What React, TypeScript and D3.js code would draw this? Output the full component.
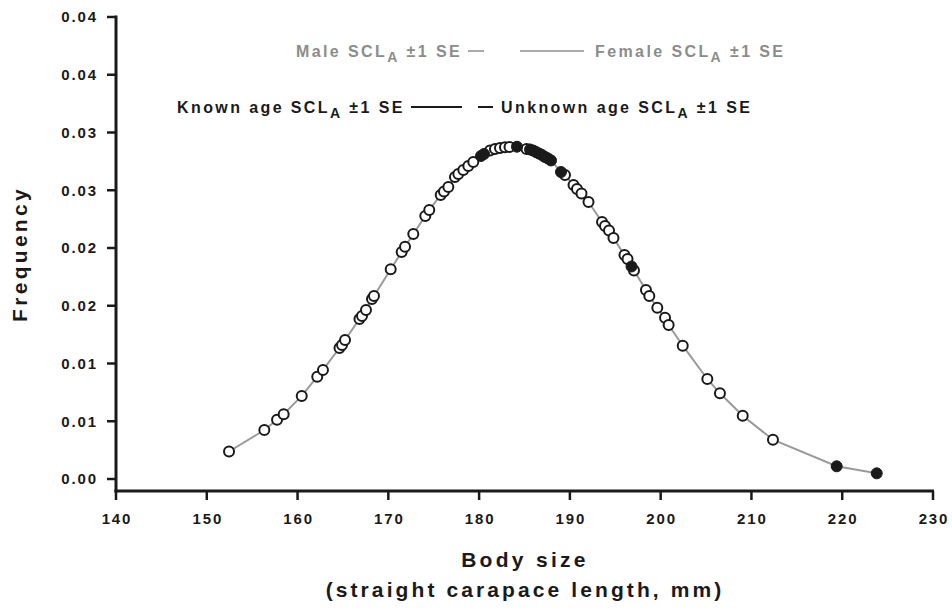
import * as d3 from "d3";

// Open circles (unknown age)
const openX = [
  152.45, 156.34, 157.74, 158.47, 160.46, 162.17, 162.8, 164.62, 164.9, 165.23,
  166.82, 167.1, 167.54, 168.2, 168.42, 170.26, 171.47, 171.84, 172.75, 174.07,
  174.51, 175.77, 176.13, 176.61, 177.34, 177.71, 178.26, 178.81, 179.36, 181.2,
  181.75, 182.3, 182.85, 183.35, 185.22, 185.94, 186.6, 187.26, 189.46, 190.4,
  190.78, 191.28, 192.05, 193.54, 193.87, 194.31, 194.8, 196.01, 196.35, 197.06,
  198.38, 198.75, 199.63, 200.48, 200.88, 202.43, 205.14, 206.53, 209.04, 212.37,
];
const openY = [
  0.00238, 0.00424, 0.00513, 0.0056, 0.00719, 0.00886, 0.00944, 0.01134, 0.0116, 0.01203,
  0.01385, 0.01411, 0.01463, 0.01558, 0.01584, 0.01816, 0.01965, 0.02011, 0.02121, 0.02277,
  0.02329, 0.02459, 0.02489, 0.02528, 0.02615, 0.02641, 0.02675, 0.0271, 0.02745, 0.02844,
  0.02857, 0.02866, 0.02872, 0.02874, 0.02857, 0.02844, 0.02818, 0.02788, 0.02632, 0.02545,
  0.02511, 0.02472, 0.02398, 0.02225, 0.0219, 0.02152, 0.02087, 0.01939, 0.01905, 0.01805,
  0.01636, 0.01584, 0.01483, 0.01397, 0.01333, 0.01154, 0.00866, 0.00742, 0.00548, 0.0034,
];

// Filled circles (known age)
const filledX = [180.21, 180.54, 184.17, 185.61, 186.27, 186.93, 187.59, 187.92, 189.02, 196.79, 219.39, 223.8];
const filledY = [0.02797, 0.02814, 0.02877, 0.02853, 0.02831, 0.02805, 0.02775, 0.02758, 0.02658, 0.0184, 0.0011, 0.00049];

const xTicks = [140, 150, 160, 170, 180, 190, 200, 210, 220, 230];
const yTicks = [0, 0.005, 0.01, 0.015, 0.02, 0.025, 0.03, 0.035, 0.04];
const yTickLabels = ["0.00", "0.01", "0.01", "0.02", "0.02", "0.03", "0.03", "0.04", "0.04"];

const font = "'Liberation Sans', Arial, sans-serif";
const gray = "#8c8c8c";
const ink = "#1a1a1a";

function Label({ x, y, pre, post, color }: { x: number; y: number; pre: string; post: string; color: string }) {
  return (
    <text x={x} y={y} fill={color} fontSize={16} fontWeight="bold" letterSpacing={2.4}>
      {pre}
      <tspan fontSize={14} dy={5}>A</tspan>
      <tspan dy={-5}>{post}</tspan>
    </text>
  );
}

export default function App() {
  const x = d3.scaleLinear().domain([140, 230]).range([116, 933]);
  const y = d3.scaleLinear().domain([0, 0.04]).range([479, 17]);
  const xAxisY = 491;

  const all = openX
    .map((v, i) => [v, openY[i]] as [number, number])
    .concat(filledX.map((v, i) => [v, filledY[i]] as [number, number]))
    .sort((a, b) => a[0] - b[0]);

  const line = d3
    .line<[number, number]>()
    .x((d) => x(d[0]))
    .y((d) => y(d[1]));

  return (
    <svg width={952} height={612} style={{ position: "absolute", left: 0, top: 0 }} fontFamily={font}>
      <rect width={952} height={612} fill="#fff" />

      {/* axes */}
      <line x1={116} x2={116} y1={15.5} y2={xAxisY + 1.5} stroke={ink} strokeWidth={3} />
      <line x1={114.5} x2={934} y1={xAxisY} y2={xAxisY} stroke={ink} strokeWidth={3} />
      {yTicks.map((t, i) => (
        <g key={i}>
          <line x1={107} x2={116} y1={y(t)} y2={y(t)} stroke={ink} strokeWidth={2.5} />
          <text x={98} y={y(t)} dy="0.36em" textAnchor="end" fontSize={15} fontWeight="bold" letterSpacing={1.9} fill={ink}>
            {yTickLabels[i]}
          </text>
        </g>
      ))}
      {xTicks.map((t) => (
        <g key={t}>
          <line x1={x(t)} x2={x(t)} y1={xAxisY} y2={xAxisY + 9} stroke={ink} strokeWidth={2.5} />
          <text x={x(t) + 1} y={xAxisY + 33} textAnchor="middle" fontSize={15} fontWeight="bold" letterSpacing={1.9} fill={ink}>
            {t}
          </text>
        </g>
      ))}

      {/* titles */}
      <text transform="translate(27,254) rotate(-90)" textAnchor="middle" fontSize={21} fontWeight="bold" letterSpacing={3.3} fill={ink}>
        Frequency
      </text>
      <text x={525} y={567} textAnchor="middle" fontSize={21} fontWeight="bold" letterSpacing={3.3} fill={ink}>
        Body size
      </text>
      <text x={525} y={597} textAnchor="middle" fontSize={21} fontWeight="bold" letterSpacing={3.1} fill={ink}>
        (straight carapace length, mm)
      </text>

      {/* legend */}
      <Label x={296} y={57} pre="Male SCL" post=" ±1 SE" color={gray} />
      <line x1={468} x2={484} y1={51} y2={51} stroke={gray} strokeWidth={1.5} />
      <line x1={520} x2={584} y1={51} y2={51} stroke={gray} strokeWidth={1.5} />
      <Label x={595} y={57} pre="Female SCL" post=" ±1 SE" color={gray} />
      <Label x={177} y={113} pre="Known age SCL" post=" ±1 SE" color={ink} />
      <line x1={411} x2={462} y1={107} y2={107} stroke={ink} strokeWidth={2} />
      <line x1={478} x2={493} y1={107} y2={107} stroke={ink} strokeWidth={2} />
      <Label x={501} y={113} pre="Unknown age SCL" post=" ±1 SE" color={ink} />

      {/* curve */}
      <path d={line(all) ?? ""} fill="none" stroke="#9a9a9a" strokeWidth={2} />
      {openX.map((v, i) => (
        <circle key={"o" + i} cx={x(v)} cy={y(openY[i])} r={5} fill="#fff" stroke={ink} strokeWidth={2} />
      ))}
      {filledX.map((v, i) => (
        <circle key={"f" + i} cx={x(v)} cy={y(filledY[i])} r={5.5} fill={ink} stroke={ink} strokeWidth={1} />
      ))}
    </svg>
  );
}
